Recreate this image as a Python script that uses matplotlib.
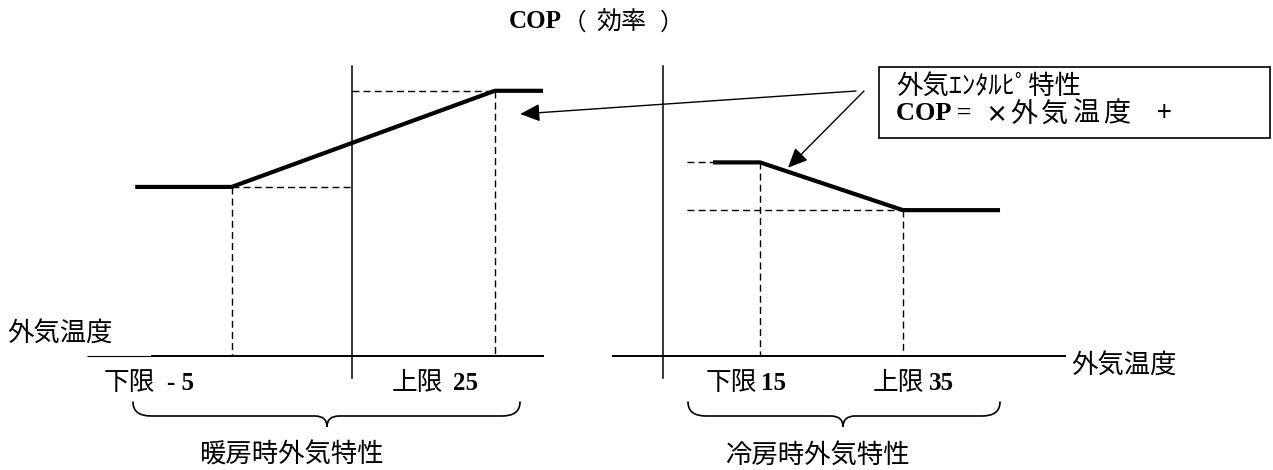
import matplotlib
matplotlib.use("Agg")
import matplotlib.pyplot as plt
from matplotlib.patches import Rectangle, PathPatch
from matplotlib.path import Path

# ---------------- data ----------------
# 暖房時: 外気温度の下限/上限 (℃) と、そのときの COP
heat_limits = [-5, 25]
heat_cop = [2.55, 4.0]
# 冷房時: 外気温度の下限/上限 (℃) と、そのときの COP
cool_limits = [15, 35]
cool_cop = [2.92, 2.2]

limit_names = ["下限", "上限"]
heat_limit_labels = ["- 5", "25"]
cool_limit_labels = ["15", "35"]
axis_label = "外気温度"
title_latin = "COP"
title_cjk = "効率"
heat_caption = "暖房時外気特性"
cool_caption = "冷房時外気特性"
box_title = "外気ｴﾝﾀﾙﾋﾟ特性"
box_formula = ["COP =", "×", "外気温度", "+"]

# ---------------- layout ----------------
W, H = 1273, 470
DPI = 100
CJK = "Noto Sans CJK JP"
SERIF = "Liberation Serif"

heat_xlim = (-21.5, 30.5)
cool_xlim = (-5.6, 57.7)
ylim = (-0.332, 4.374)
heat_axis_temp = 8.7      # where the COP axis crosses the temperature axis
cool_axis_temp = 1.4
heat_extent = (-16.0, 30.5)
cool_extent = (8.4, 48.6)
cool_guide_start = 4.8

fig = plt.figure(figsize=(W / DPI, H / DPI), dpi=DPI)
fig.patch.set_facecolor("white")


def px_axes(x0, x1, y_top, y_bottom, **kw):
    return fig.add_axes([x0 / W, (H - y_bottom) / H, (x1 - x0) / W,
                         (y_bottom - y_top) / H], **kw)


ax_h = px_axes(87, 543, 66, 378)
ax_c = px_axes(613, 1065, 66, 378)

dash = dict(color="black", lw=1.0, linestyle=(0, (5, 3)), zorder=2)
curve = dict(color="black", lw=3.0, solid_capstyle="butt", zorder=3)

for ax, xlim, axis_t in [(ax_h, heat_xlim, heat_axis_temp),
                         (ax_c, cool_xlim, cool_axis_temp)]:
    ax.set_xlim(*xlim)
    ax.set_ylim(*ylim)
    ax.set_facecolor("none")
    ax.set_xticks([])
    ax.set_yticks([])
    for side in ("top", "right"):
        ax.spines[side].set_visible(False)
    ax.spines["left"].set_position(("data", axis_t))
    ax.spines["left"].set_linewidth(1.1)
    ax.spines["bottom"].set_position(("data", 0))
    ax.spines["bottom"].set_linewidth(1.4)

# the heating temperature axis starts with a thinner lead-in segment
ax_h.spines["bottom"].set_bounds(-14.1, heat_xlim[1])
ax_h.plot([heat_xlim[0], -14.1], [0, 0], color="black", lw=0.8,
          solid_capstyle="butt", clip_on=False)

# ---- heating characteristic ----
lo_t, hi_t = heat_limits
lo_c, hi_c = heat_cop
ax_h.plot([heat_extent[0], lo_t, hi_t, heat_extent[1]],
          [lo_c, lo_c, hi_c, hi_c], **curve)
ax_h.plot([lo_t, heat_axis_temp], [lo_c, lo_c], **dash)
ax_h.plot([lo_t, lo_t], [lo_c, 0], **dash)
ax_h.plot([heat_axis_temp, hi_t], [hi_c, hi_c], **dash)
ax_h.plot([hi_t, hi_t], [hi_c, 0], **dash)

# ---- cooling characteristic ----
lo_t, hi_t = cool_limits
lo_c, hi_c = cool_cop
ax_c.plot([cool_extent[0], lo_t, hi_t, cool_extent[1]],
          [lo_c, lo_c, hi_c, hi_c], **curve)
ax_c.plot([cool_guide_start, cool_extent[0]], [lo_c, lo_c], **dash)
ax_c.plot([cool_guide_start, hi_t], [hi_c, hi_c], **dash)
ax_c.plot([lo_t, lo_t], [lo_c, 0], **dash)
ax_c.plot([hi_t, hi_t], [hi_c, 0], **dash)

# ---------------- overlay in pixel units ----------------
ov = fig.add_axes([0, 0, 1, 1], zorder=10)
ov.set_xlim(0, W)
ov.set_ylim(H, 0)
ov.set_facecolor("none")
ov.axis("off")

cjk = dict(family=CJK, color="black", va="center")
ser = dict(family=SERIF, weight="bold", color="black", va="center")


def spaced(x, y, s, advance, **kw):
    """Draw a string with a fixed advance between characters."""
    for i, ch in enumerate(s):
        ov.text(x + i * advance, y, ch, ha="left", **kw)


# title
ov.text(509, 22, title_latin, fontsize=18, ha="left", **ser)
ov.text(574, 23, "（", fontsize=17, ha="center", **cjk)
ov.text(596, 23, title_cjk, fontsize=18, ha="left", **cjk)
ov.text(672, 23, "）", fontsize=17, ha="center", **cjk)

# axis names
ov.text(7, 333, axis_label, fontsize=19, ha="left", **cjk)
ov.text(1071, 365, axis_label, fontsize=19, ha="left", **cjk)

# limit labels
label_y = 383
ov.text(104, label_y, limit_names[0], fontsize=18.5, ha="left", **cjk)
ov.text(167, label_y, heat_limit_labels[0], fontsize=18, ha="left", **ser)
ov.text(392, label_y, limit_names[1], fontsize=18.5, ha="left", **cjk)
ov.text(453, label_y, heat_limit_labels[1], fontsize=18, ha="left", **ser)
ov.text(706, label_y, limit_names[0], fontsize=18.5, ha="left", **cjk)
ov.text(761, label_y, cool_limit_labels[0], fontsize=18, ha="left", **ser)
ov.text(873, label_y, limit_names[1], fontsize=18.5, ha="left", **cjk)
ov.text(929, label_y, cool_limit_labels[1], fontsize=18, ha="left", **ser)


def brace(x0, x1, xm, y_top, y_mid, y_tip, r_end=18, r_mid=12):
    verts = [
        (x0, y_top), (x0, y_mid), (x0 + r_end, y_mid),
        (xm - r_mid, y_mid),
        (xm, y_mid), (xm, y_tip),
        (xm, y_mid), (xm + r_mid, y_mid),
        (x1 - r_end, y_mid),
        (x1, y_mid), (x1, y_top),
    ]
    codes = [Path.MOVETO, Path.CURVE3, Path.CURVE3, Path.LINETO,
             Path.CURVE3, Path.CURVE3, Path.CURVE3, Path.CURVE3,
             Path.LINETO, Path.CURVE3, Path.CURVE3]
    ov.add_patch(PathPatch(Path(verts, codes), fill=False, lw=1.2,
                           edgecolor="black", capstyle="round"))


brace(133, 520, 327, 402, 416, 427)
brace(688, 1000, 843, 402, 416, 427)

ov.text(199, 455, heat_caption, fontsize=19, ha="left", **cjk)
ov.text(725, 455, cool_caption, fontsize=19, ha="left", **cjk)

# formula box
ov.add_patch(Rectangle((879, 67), 391, 71, fill=False, lw=1.2,
                       edgecolor="black"))
ov.text(896, 86, box_title, fontsize=19, ha="left", **cjk)
ov.text(896, 113, box_formula[0], fontsize=19, ha="left", **ser)
ov.text(996, 115, box_formula[1], fontsize=16, ha="center", weight="bold", **cjk)
spaced(1010, 114, box_formula[2], 31, fontsize=19.5, **cjk)
ov.text(1164, 114, box_formula[3], fontsize=19, ha="center", **cjk)

# leader arrows from the box to both sloped segments
arrow = dict(arrowstyle="-|>,head_length=0.6,head_width=0.27",
             mutation_scale=20, color="black", lw=1.0,
             shrinkA=0, shrinkB=0)
ov.annotate("", xy=(27.9, 3.65), xycoords=ax_h.transData,
            xytext=(856, 91), textcoords="data", arrowprops=arrow)
ov.annotate("", xy=(18.9, 2.84), xycoords=ax_c.transData,
            xytext=(864, 91), textcoords="data", arrowprops=arrow)

fig.savefig("out.png", dpi=DPI, facecolor="white")
